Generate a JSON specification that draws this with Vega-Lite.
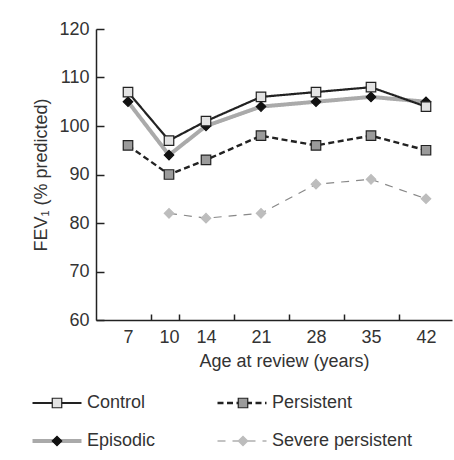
{
  "$schema": "https://vega.github.io/schema/vega-lite/v6.json",
  "width": 356,
  "height": 291,
  "autosize": {"type": "none"},
  "padding": {"left": 96, "top": 29, "right": 2, "bottom": 140},
  "background": "white",
  "config": {
    "view": {"stroke": null},
    "font": "Liberation Sans",
    "axis": {
      "labelFont": "Liberation Sans", "labelFontSize": 18, "labelColor": "#333",
      "titleFont": "Liberation Sans", "titleFontSize": 18, "titleFontWeight": "normal", "titleColor": "#333",
      "domainColor": "#222", "domainWidth": 1.5, "tickColor": "#222", "tickWidth": 1.5,
      "grid": false, "labelFlush": false, "labelOverlap": false
    },
    "legend": {
      "labelFont": "Liberation Sans", "labelFontSize": 18, "labelColor": "#333", "labelLimit": 400,
      "padding": 0, "columns": 2, "orient": "none"
    }
  },
  "data": {
    "values": [
      {"age": 7, "group": "Episodic", "fev": 105},
      {"age": 10, "group": "Episodic", "fev": 94},
      {"age": 14, "group": "Episodic", "fev": 100},
      {"age": 21, "group": "Episodic", "fev": 104},
      {"age": 28, "group": "Episodic", "fev": 105},
      {"age": 35, "group": "Episodic", "fev": 106},
      {"age": 42, "group": "Episodic", "fev": 105},
      {"age": 10, "group": "Severe persistent", "fev": 82},
      {"age": 14, "group": "Severe persistent", "fev": 81},
      {"age": 21, "group": "Severe persistent", "fev": 82},
      {"age": 28, "group": "Severe persistent", "fev": 88},
      {"age": 35, "group": "Severe persistent", "fev": 89},
      {"age": 42, "group": "Severe persistent", "fev": 85},
      {"age": 7, "group": "Persistent", "fev": 96},
      {"age": 10, "group": "Persistent", "fev": 90},
      {"age": 14, "group": "Persistent", "fev": 93},
      {"age": 21, "group": "Persistent", "fev": 98},
      {"age": 28, "group": "Persistent", "fev": 96},
      {"age": 35, "group": "Persistent", "fev": 98},
      {"age": 42, "group": "Persistent", "fev": 95},
      {"age": 7, "group": "Control", "fev": 107},
      {"age": 10, "group": "Control", "fev": 97},
      {"age": 14, "group": "Control", "fev": 101},
      {"age": 21, "group": "Control", "fev": 106},
      {"age": 28, "group": "Control", "fev": 107},
      {"age": 35, "group": "Control", "fev": 108},
      {"age": 42, "group": "Control", "fev": 104}
    ]
  },
  "encoding": {
    "x": {
      "field": "age", "type": "quantitative",
      "scale": {"domain": [4, 7, 10, 14, 42, 45], "range": [0, 32, 73, 110, 330, 356], "nice": false, "zero": false},
      "axis": {
        "title": "Age at review (years)", "titleX": 188,
        "values": [7, 8.7, 10, 11.1, 14, 17.5, 21, 24.5, 28, 31.5, 35, 38.5, 42],
        "labelExpr": "indexof([7,10,14,21,28,35,42], datum.value) >= 0 ? datum.label : ''",
        "tickOpacity": {"condition": {"test": "indexof([7,10,14,21,28,35,42], datum.value) >= 0", "value": 0}, "value": 1},
        "tickSize": -6, "labelPadding": 14, "titlePadding": 6
      }
    },
    "y": {
      "field": "fev", "type": "quantitative",
      "scale": {"domain": [60, 120], "nice": false, "zero": false},
      "axis": {
        "title": "FEV₁ (% predicted)",
        "values": [60, 70, 80, 90, 100, 110, 120],
        "tickSize": -8, "labelPadding": 15, "titlePadding": 8
      }
    }
  },
  "layer": [
    {
      "mark": {"type": "line"},
      "encoding": {
        "color": {
          "field": "group", "type": "nominal",
          "scale": {"range": ["#222222", "#aaaaaa", "#222222", "#888888"]},
          "legend": {
            "title": null,
            "symbolType": "M-4.9,0H4.9", "symbolSize": 100,
            "symbolStrokeWidth": {"expr": "datum.value === 'Episodic' ? 4 : datum.value === 'Severe persistent' ? 1.2 : datum.value === 'Persistent' ? 2.4 : 2.2"},
            "labelOffset": 21, "columnPadding": 56, "rowPadding": 20,
            "legendX": -48, "legendY": 365
          }
        },
        "strokeDash": {
          "field": "group", "type": "nominal",
          "scale": {"range": [[1, 0], [1, 0], [6, 3.5], [8, 7]]},
          "legend": {
            "title": null,
            "symbolType": "M-4.9,0H4.9", "symbolSize": 100,
            "symbolStrokeWidth": {"expr": "datum.value === 'Episodic' ? 4 : datum.value === 'Severe persistent' ? 1.2 : datum.value === 'Persistent' ? 2.4 : 2.2"},
            "labelOffset": 21, "columnPadding": 56, "rowPadding": 20,
            "legendX": -48, "legendY": 365
          }
        },
        "strokeWidth": {
          "condition": [
            {"test": "datum.group === 'Episodic'", "value": 4},
            {"test": "datum.group === 'Severe persistent'", "value": 1.2},
            {"test": "datum.group === 'Persistent'", "value": 2.4}
          ],
          "value": 2.2
        }
      }
    },
    {
      "transform": [{"filter": "datum.fev > 0"}],
      "mark": {"type": "point", "filled": true, "size": 90, "opacity": 1, "strokeWidth": 1.2},
      "encoding": {
        "shape": {
          "field": "group", "type": "nominal",
          "scale": {"range": ["square", "diamond", "square", "diamond"]},
          "legend": {
            "title": null,
            "symbolSize": 90, "symbolStrokeWidth": 1.2, "labelExpr": "''",
            "labelOffset": 21, "columnPadding": 147, "rowPadding": 20,
            "legendX": -48, "legendY": 365
          }
        },
        "fill": {
          "field": "group", "type": "nominal",
          "scale": {"range": ["#e3e3e3", "#111111", "#9b9b9b", "#bdbdbd"]},
          "legend": {
            "title": null,
            "symbolSize": 90, "symbolStrokeWidth": 1.2, "labelExpr": "''",
            "labelOffset": 21, "columnPadding": 147, "rowPadding": 20,
            "legendX": -48, "legendY": 365
          }
        },
        "stroke": {
          "field": "group", "type": "nominal",
          "scale": {"range": ["#222222", "#111111", "#222222", "#bdbdbd"]},
          "legend": {
            "title": null,
            "symbolSize": 90, "symbolStrokeWidth": 1.2, "labelExpr": "''",
            "labelOffset": 21, "columnPadding": 147, "rowPadding": 20,
            "legendX": -48, "legendY": 365
          }
        }
      }
    }
  ]
}
